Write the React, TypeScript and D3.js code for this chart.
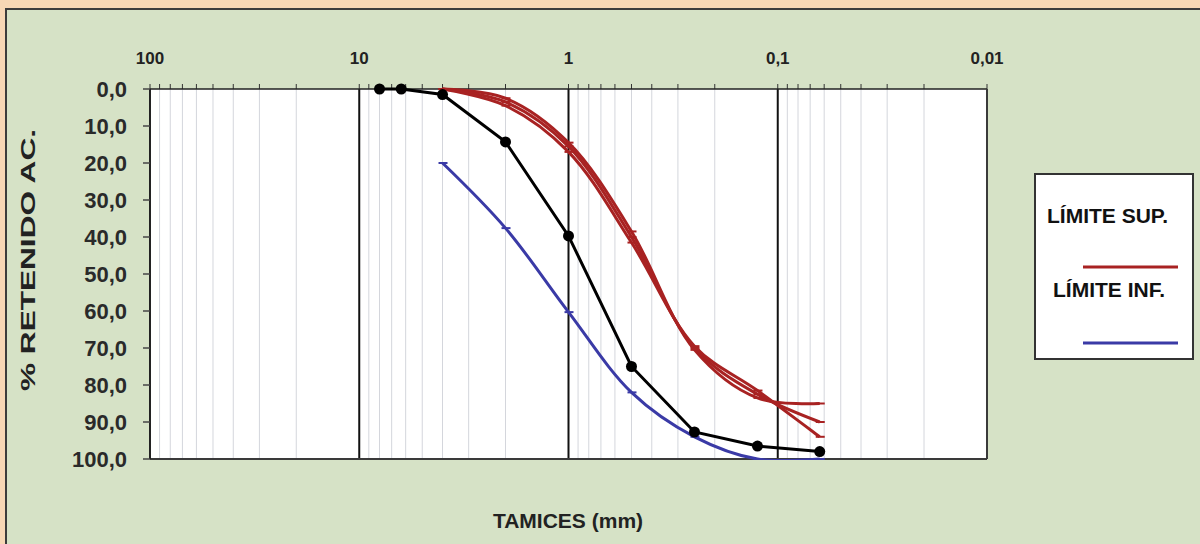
import React from "react";
import * as d3 from "d3";

// ---- data ----
const sieveSizes = [8, 6.3, 4, 2, 1, 0.5, 0.25, 0.125, 0.063];
const retainedSample = [0, 0, 1.5, 14.3, 39.7, 75, 92.7, 96.5, 98];

const limitSizes = [4, 2, 1, 0.5, 0.25, 0.125, 0.063];
const upperLimitA = [0, 2.5, 14.5, 38.5, 70.5, 83.5, 85];
const upperLimitB = [0, 3.5, 15.5, 40, 70, 82.5, 90];
const upperLimitC = [0, 4.5, 17, 41.5, 69.5, 81.5, 94];
const lowerLimit = [20, 37.6, 60.3, 82, 94, 100, 100];

const xTickValues = [100, 10, 1, 0.1, 0.01];
const xTickLabels = ["100", "10", "1", "0,1", "0,01"];
const yTickValues = [0, 10, 20, 30, 40, 50, 60, 70, 80, 90, 100];
const yTickLabels = ["0,0", "10,0", "20,0", "30,0", "40,0", "50,0", "60,0", "70,0", "80,0", "90,0", "100,0"];

const legendLabels = ["LÍMITE SUP.", "LÍMITE INF."];

const FONT = "'Liberation Sans', Arial, sans-serif";
const RED = "#a82222";
const BLUE = "#3a3aa6";

export default function App() {
  const W = 1200;
  const H = 544;
  const left = 150, right = 987, top = 89, bottom = 459;

  const x = d3.scaleLog().domain([100, 0.01]).range([left, right]);
  const y = d3.scaleLinear().domain([0, 100]).range([top, bottom]);

  const minor: number[] = [];
  for (const e of [1, 0, -1, -2]) {
    for (let k = 2; k <= 9; k++) minor.push(k * Math.pow(10, e));
  }
  const majors = [10, 1, 0.1];
  const topTicks = [...minor, ...majors, 100, 0.01];

  const smooth = d3
    .line<[number, number]>()
    .x((d) => x(d[0]))
    .y((d) => y(d[1]))
    .curve(d3.curveCatmullRom.alpha(0.5));
  const straight = d3
    .line<[number, number]>()
    .x((d) => x(d[0]))
    .y((d) => y(d[1]));

  const zip = (xs: number[], ys: number[]) => xs.map((v, i) => [v, ys[i]] as [number, number]);
  const uppers = [upperLimitA, upperLimitB, upperLimitC].map((v) => zip(limitSizes, v));
  const lower = zip(limitSizes, lowerLimit);
  const sample = zip(sieveSizes, retainedSample);

  return (
    <svg
      width={W}
      height={H}
      style={{ position: "absolute", left: 0, top: 0, display: "block" }}
      fontFamily={FONT}
    >
      <defs>
        <clipPath id="plotClip">
          <rect x={left} y={top - 6} width={right - left} height={bottom - top + 7} />
        </clipPath>
      </defs>
      <rect x={0} y={0} width={W} height={H} fill="#f7d7b5" />
      <rect x={6} y={9} width={W + 10} height={H + 10} fill="#d6e2c6" stroke="#3c3c3c" strokeWidth={2} />

      {/* plot area */}
      <rect x={left} y={top} width={right - left} height={bottom - top} fill="#ffffff" />

      {/* minor grid */}
      {minor.map((v) => (
        <line key={"g" + v} x1={x(v)} x2={x(v)} y1={top} y2={bottom} stroke="#d4d6dc" strokeWidth={1} />
      ))}

      {/* top ticks */}
      {topTicks.map((v) => (
        <line key={"t" + v} x1={x(v)} x2={x(v)} y1={top - 5} y2={top} stroke="#333" strokeWidth={1} />
      ))}

      {/* major lines */}
      {majors.map((v) => (
        <line key={"m" + v} x1={x(v)} x2={x(v)} y1={top} y2={bottom} stroke="#111" strokeWidth={2} />
      ))}

      {/* borders */}
      <line x1={left} x2={right} y1={top} y2={top} stroke="#222" strokeWidth={1.5} />
      <line x1={left} x2={right} y1={bottom} y2={bottom} stroke="#3a3a3a" strokeWidth={2} />
      <line x1={left} x2={left} y1={top} y2={bottom} stroke="#222" strokeWidth={2} />
      <line x1={right} x2={right} y1={top} y2={bottom} stroke="#3a3a3a" strokeWidth={2} />

      {/* y ticks & labels */}
      {yTickValues.map((v, i) => (
        <g key={"y" + v}>
          <line x1={left - 7} x2={left} y1={y(v)} y2={y(v)} stroke="#444" strokeWidth={1.5} />
          <text
            x={127}
            y={y(v) + 8}
            textAnchor="end"
            fontSize={22}
            fontWeight="bold"
            fill="#2a2a2a"
          >
            {yTickLabels[i]}
          </text>
        </g>
      ))}

      {/* x labels (top) */}
      {xTickValues.map((v, i) => (
        <text
          key={"x" + v}
          x={x(v)}
          y={64}
          textAnchor="middle"
          fontSize={17}
          fontWeight="bold"
          fill="#222"
        >
          {xTickLabels[i]}
        </text>
      ))}

      {/* axis titles */}
      <text x={568} y={528} textAnchor="middle" fontSize={21} fontWeight="bold" fill="#222">
        TAMICES (mm)
      </text>
      <text
        transform="translate(35,260) rotate(-90)"
        textAnchor="middle"
        fontSize={20}
        fontWeight="bold"
        fill="#222"
        textLength={262}
        lengthAdjust="spacingAndGlyphs"
      >
        % RETENIDO AC.
      </text>

      {/* series */}
      <g clipPath="url(#plotClip)">
        <path d={smooth(lower) || ""} fill="none" stroke={BLUE} strokeWidth={3} />
        {uppers.map((s, j) => (
          <path key={"u" + j} d={smooth(s) || ""} fill="none" stroke={RED} strokeWidth={3} />
        ))}
      </g>
      {lower.map((d, i) => (
        <line key={"bm" + i} x1={x(d[0]) - 4} x2={x(d[0]) + 5} y1={y(d[1])} y2={y(d[1])} stroke={BLUE} strokeWidth={2} />
      ))}
      {uppers.map((s, j) => (
        <g key={"um" + j}>
          {s.map((d, i) => (
            <line key={"rm" + i} x1={x(d[0]) - 4} x2={x(d[0]) + 5} y1={y(d[1])} y2={y(d[1])} stroke={RED} strokeWidth={2} />
          ))}
        </g>
      ))}

      <path d={straight(sample) || ""} fill="none" stroke="#000" strokeWidth={3} />
      {sample.map((d, i) => (
        <circle key={"c" + i} cx={x(d[0])} cy={y(d[1])} r={5.5} fill="#000" />
      ))}

      {/* legend */}
      <rect x={1035} y={174} width={158} height={185} fill="#ffffff" stroke="#333" strokeWidth={2} />
      <text x={1047} y={223} fontSize={21} fontWeight="bold" fill="#111">
        {legendLabels[0]}
      </text>
      <line x1={1083} x2={1178} y1={267} y2={267} stroke={RED} strokeWidth={3} />
      <text x={1053} y={297} fontSize={21} fontWeight="bold" fill="#111">
        {legendLabels[1]}
      </text>
      <line x1={1083} x2={1178} y1={343} y2={343} stroke={BLUE} strokeWidth={3} />
    </svg>
  );
}
